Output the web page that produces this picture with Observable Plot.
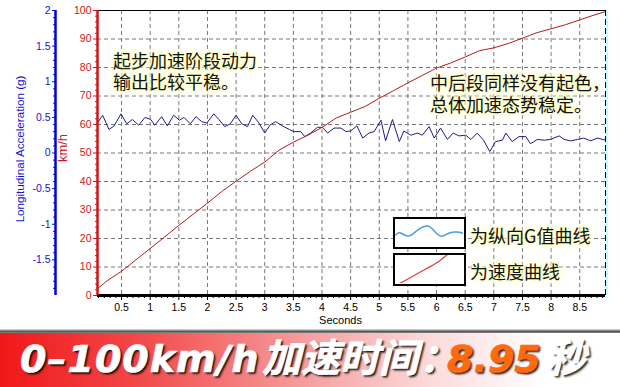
<!DOCTYPE html>
<html><head><meta charset="utf-8">
<script src="https://cdn.jsdelivr.net/npm/d3@7"></script>
<script src="https://cdn.jsdelivr.net/npm/@observablehq/plot@0.6"></script>
<style>
html,body{margin:0;padding:0;background:#fff;}
body{width:620px;height:387px;overflow:hidden;position:relative;font-family:"Liberation Sans",Arial,sans-serif;}
#chart{position:absolute;left:0;top:0;}
.note{position:absolute;font-family:"Noto Sans CJK SC",sans-serif;font-size:18px;line-height:20px;height:20px;color:#111;white-space:nowrap;
 text-shadow:0 0 3px #ffffc0,0 0 6px #ffffb0,0 0 9px #ffffb8,0 0 12px #fffff0;}
.legbox{position:absolute;left:393px;width:73px;border:2.5px solid #000;box-sizing:border-box;background:#fff;overflow:hidden;}
#band{position:absolute;left:0;top:329px;width:620px;height:4px;background:linear-gradient(#e8e8e8,#555 60%,#888);}
#banner{position:absolute;left:0;top:333px;width:620px;height:54px;
 background:linear-gradient(90deg,#f01818 0%,#f24848 22%,#f59a9a 48%,#fcdcdc 70%,#ffffff 88%);}
#banner span{position:absolute;white-space:nowrap;color:#fff;-webkit-text-stroke:0.7px currentColor;text-shadow:2px 2px 2px rgba(0,0,0,.75),1px 1px 1px rgba(0,0,0,.5);}
.lat{font-family:"DejaVu Sans",sans-serif;font-weight:bold;font-style:italic;font-size:38px;line-height:38px;top:7px;}
.cjk{font-family:"Noto Sans CJK SC",sans-serif;font-weight:bold;font-style:italic;font-size:39px;line-height:39px;top:3px;}
</style></head>
<body>
<div id="chart"></div>
<div class="note" style="left:113px;top:50px">起步加速阶段动力</div>
<div class="note" style="left:113px;top:71px">输出比较平稳。</div>
<div class="note" style="left:430px;top:72px">中后段同样没有起色，</div>
<div class="note" style="left:430px;top:94px">总体加速态势稳定。</div>
<div class="legbox" id="leg1" style="top:217px;height:32px"></div>
<div class="legbox" id="leg2" style="top:253px;height:33px"></div>
<div class="note" style="left:470px;top:225px">为纵向G值曲线</div>
<div class="note" style="left:470px;top:261px">为速度曲线</div>
<div id="band"></div>
<div id="banner">
 <span class="lat" style="left:20px;letter-spacing:1px">0–100km/h</span>
 <span class="cjk" style="left:262px">加速时间</span>
 <span class="cjk" style="left:419px;letter-spacing:-16px">：</span>
 <span class="lat" style="left:447px;color:#ff6a10">8.95</span>
 <span class="cjk" style="left:547px">秒</span>
</div>
<script>
// ---- data ----
const speedTime = [0.08,0.25,0.5,0.75,1.0,1.25,1.5,1.75,2.0,2.25,2.5,2.75,3.0,3.25,3.5,3.75,4.0,4.25,4.5,4.75,5.0,5.25,5.5,5.75,6.0,6.25,6.5,6.75,7.0,7.25,7.5,7.75,8.0,8.25,8.5,8.75,8.95];
const speedKmh  = [2.4,5.2,8.5,12.5,16.5,20.5,24.6,28.5,32.4,36.5,40.1,43.6,46.8,51.0,53.8,56.2,59.0,62.3,64.3,66.3,69.2,71.9,74.6,77.2,79.8,81.6,83.7,85.9,86.9,88.4,90.3,92.2,93.6,95.0,96.7,98.4,99.6];
const accTime = [0.07,0.17,0.28,0.37,0.49,0.59,0.69,0.80,0.91,1.01,1.08,1.20,1.30,1.41,1.51,1.59,1.70,1.80,1.90,1.99,2.11,2.20,2.30,2.40,2.50,2.60,2.70,2.79,2.90,3.00,3.09,3.19,3.31,3.43,3.51,3.63,3.70,3.80,3.92,4.01,4.10,4.21,4.33,4.42,4.50,4.61,4.71,4.82,4.91,5.03,5.11,5.23,5.35,5.43,5.55,5.67,5.75,5.87,5.96,6.07,6.19,6.29,6.39,6.51,6.60,6.71,6.82,6.93,7.03,7.15,7.21,7.32,7.44,7.56,7.64,7.76,7.88,7.99,8.14,8.23,8.34,8.46,8.57,8.69,8.81,8.95];
const accG    = [0.41,0.53,0.33,0.38,0.55,0.41,0.47,0.39,0.50,0.47,0.39,0.51,0.38,0.53,0.46,0.50,0.41,0.51,0.44,0.42,0.55,0.47,0.37,0.41,0.53,0.41,0.37,0.53,0.42,0.28,0.39,0.44,0.38,0.33,0.30,0.30,0.23,0.28,0.36,0.36,0.28,0.35,0.35,0.30,0.31,0.38,0.21,0.28,0.30,0.46,0.17,0.47,0.16,0.31,0.25,0.28,0.25,0.37,0.21,0.35,0.19,0.28,0.24,0.25,0.19,0.28,0.18,0.02,0.16,0.18,0.28,0.16,0.23,0.23,0.13,0.19,0.18,0.19,0.24,0.19,0.17,0.19,0.21,0.17,0.21,0.18];
const xTicks = [0.5,1,1.5,2,2.5,3,3.5,4,4.5,5,5.5,6,6.5,7,7.5,8,8.5];
const speedTicks = [0,10,20,30,40,50,60,70,80,90,100];
const gTicks = [2,1.5,1,0.5,0,-0.5,-1,-1.5];
const xDomain = [0.08,8.95];
const speedDomain = [0,100];
const gDomain = [-2,2];
// legend samples
const legWaveX = [0,4.5,12.8,21.2,27.8,32.2,36.2,42.8,47.8,54.5,61.2,67.8];
const legWaveY = [5.1,6.1,4.7,7.0,8.8,9.1,8.1,5.1,4.7,6.1,6.4,5.9];
const legLineX = [4,12,20,28,36,44,52];
const legLineY = [0,4.2,8.8,13.2,17.6,22.5,29];

// g value -> position on the speed scale (dual axis)
const gToY = g => (g - gDomain[0]) / (gDomain[1] - gDomain[0]) * (speedDomain[1] - speedDomain[0]) + speedDomain[0];
const fmtG = v => String(+((v - speedDomain[0]) / 25 + gDomain[0]).toFixed(2));

const xMinor = d3.range(1, 90).map(i => i / 10).filter(t => Math.abs(t * 2 - Math.round(t * 2)) > 1e-6);
const yMinor = d3.range(2, 100, 2).filter(v => v % 10 !== 0);
const gMinor = d3.range(-19, 20).map(i => i / 10).filter(g => Math.abs(g * 2 - Math.round(g * 2)) > 1e-6).map(gToY);

const RED = "#cc1515", BLUE = "#1515cc";
const G_LABEL = "Longitudinal Acceleration (g)";

const chart = Plot.plot({
  width: 620, height: 329,
  marginTop: 10, marginBottom: 34, marginLeft: 97, marginRight: 15,
  style: {fontFamily: "Liberation Sans, Arial, sans-serif", fontSize: "10px", background: "transparent", overflow: "visible"},
  x: {domain: xDomain},
  y: {domain: speedDomain},
  marks: [
    Plot.gridX(xTicks, {stroke: "#777", strokeOpacity: 1, strokeDasharray: "4,3"}),
    Plot.gridY(speedTicks.filter(v => v > 0 && v < 100), {stroke: "#777", strokeOpacity: 1, strokeDasharray: "4,3"}),
    Plot.line(accTime, {x: accTime, y: accG.map(gToY), stroke: "#1c1c8a", strokeWidth: 1}),
    Plot.line(speedTime, {x: speedTime, y: speedKmh, stroke: "#b01e1e", strokeWidth: 1}),
    // frame pieces
    Plot.ruleY([100], {stroke: "#000", strokeWidth: 1}),
    Plot.ruleX([xDomain[1]], {stroke: "#bff", strokeWidth: 2, dx: 1.5}),
    Plot.ruleX([xDomain[1]], {stroke: "#000", strokeWidth: 1, strokeDasharray: "6,3"}),
    // x axis
    Plot.axisX(xTicks, {anchor: "bottom", tickSize: 5, tickPadding: 3, tickFormat: d => String(d), label: null, fontSize: 10.5, color: "#000"}),
    Plot.axisX(xMinor, {anchor: "bottom", tickSize: 3, tickFormat: () => "", label: null, color: "#000"}),
    Plot.ruleY([0], {stroke: "#000", strokeWidth: 3}),
    Plot.text(["Seconds"], {frameAnchor: "bottom", textAnchor: "middle", dx: -11, dy: 28, fontSize: 11, fill: "#000"}),
    // red speed axis
    Plot.axisY(speedTicks, {anchor: "left", tickSize: 4, tickPadding: 2, tickFormat: d => String(d), label: null, color: RED, fontSize: 10.5}),
    Plot.axisY(yMinor, {anchor: "left", tickSize: 2, tickFormat: () => "", label: null, color: RED}),
    Plot.ruleX([xDomain[0]], {stroke: RED, strokeWidth: 2.5}),
    Plot.text(["km/h"], {frameAnchor: "left", textAnchor: "middle", dx: -35, dy: -5, rotate: -90, fill: RED, fontSize: 12}),
    // blue g axis
    Plot.axisY(gTicks.map(gToY), {anchor: "left", dx: -42, tickSize: 3, tickPadding: 2, tickFormat: fmtG, label: null, color: BLUE, fontSize: 10.5}),
    Plot.axisY(gMinor, {anchor: "left", dx: -42, tickSize: 2, tickFormat: () => "", label: null, color: BLUE}),
    Plot.ruleX([xDomain[0]], {stroke: "#0000e0", strokeWidth: 2.5, dx: -42}),
    Plot.text([G_LABEL], {frameAnchor: "left", textAnchor: "middle", dx: -77, dy: -4, rotate: -90, fill: BLUE, fontSize: 11.5})
  ]
});
document.getElementById("chart").append(chart);

// fit the rotated axis titles to the reference's lengths
function fitText(str, target) {
  for (const t of chart.querySelectorAll("text")) {
    if (t.textContent === str) {
      const len = t.getComputedTextLength();
      if (len > 0) {
        const fs = parseFloat(getComputedStyle(t).fontSize) || 11;
        t.style.fontSize = Math.max(9, Math.min(14, fs * target / len)) + "px";
      }
    }
  }
}
fitText(G_LABEL, 147);
fitText("km/h", 28);

const leg1 = Plot.plot({
  width: 68, height: 27, margin: 0,
  x: {domain: [0, 68], axis: null}, y: {domain: [0, 12], axis: null},
  style: {background: "transparent"},
  marks: [Plot.line(legWaveX, {x: legWaveX, y: legWaveY, stroke: "#4a9be0", strokeWidth: 1.5, curve: "natural"})]
});
document.getElementById("leg1").append(leg1);
const leg2 = Plot.plot({
  width: 68, height: 28, margin: 0,
  x: {domain: [0, 68], axis: null}, y: {domain: [0, 28], axis: null},
  style: {background: "transparent"},
  marks: [Plot.line(legLineX, {x: legLineX, y: legLineY, stroke: "#e03a3a", strokeWidth: 1.2, clip: true})]
});
document.getElementById("leg2").append(leg2);
</script>
</body></html>
